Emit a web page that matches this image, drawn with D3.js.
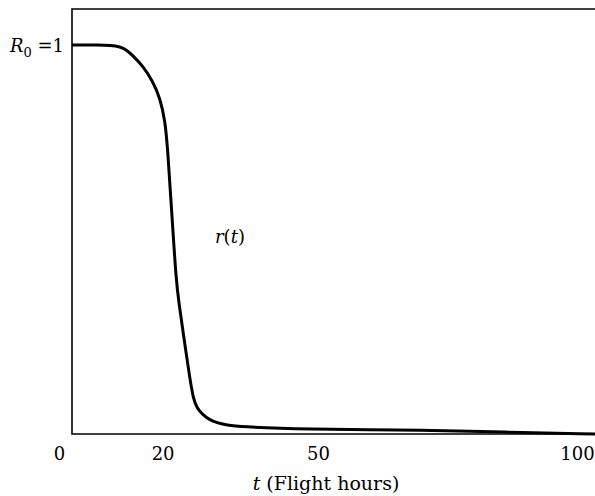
<!DOCTYPE html>
<html>
<head>
<meta charset="utf-8">
<script src="https://cdn.jsdelivr.net/npm/d3@7/dist/d3.min.js"></script>
<style>
  body { margin: 0; background: #fff; }
  svg { display: block; }
  text { font-family: "DejaVu Serif", serif; fill: #000; }
</style>
</head>
<body>
<script>
// reliability r(t) against flight hours
var tHours  = [2.5, 7.9, 9.85, 11.8, 13.1, 14.3, 16.2, 18.1, 19.5, 20.5, 21.0, 21.8, 22.6, 23.2, 23.9, 25.3, 25.9, 26.6, 27.8, 29.1, 30.7, 32.4, 34.9, 46.6, 71.7, 85.2, 103.5];
var rValues = [1.0, 1.0, 0.999, 0.996, 0.987, 0.972, 0.946, 0.907, 0.864, 0.805, 0.728, 0.563, 0.396, 0.332, 0.267, 0.139, 0.093, 0.067, 0.049, 0.036, 0.028, 0.023, 0.019, 0.012, 0.010, 0.005, 0.0];
var tickVals = [0, 20, 50, 100];

var data = tHours.map((t, i) => { return {t: t, r: rValues[i]}; });

var W = 595, H = 496;
var frame = {left: 72, top: 9, right: 595, bottom: 434};

var x = d3.scaleLinear()
	.domain([0, 100])
	.range([59, 577]);

var y = d3.scaleLinear()
	.domain([0, 1])
	.range([frame.bottom, 45]);

var svg = d3.select("body")
	.append("svg")
		.attr("width", W)
		.attr("height", H);

// open frame: top, left and bottom edges
svg.append("path")
	.attr("d", "M" + frame.right + "," + frame.top + "H" + frame.left + "V" + frame.bottom + "H" + frame.right)
	.attr("fill", "none")
	.attr("stroke", "#000")
	.attr("stroke-width", 1.6);

// tick labels only, no tick marks
var bottomAxis = d3.axisBottom(x)
	.tickValues(tickVals)
	.tickSize(0)
	.tickPadding(0)
	.tickFormat(d3.format("d"));

var ax = svg.append("g")
	.attr("class", "bottom axis")
	.attr("transform", "translate(0," + frame.bottom + ")")
	.call(bottomAxis);
ax.select(".domain").remove();
ax.selectAll("text")
	.attr("y", 26)
	.attr("dy", null)
	.attr("font-size", "18px")
	.attr("font-family", null);

// r(t) curve, smoothed through the sampled points
var line = d3.line()
	.x((d) => { return x(d.t); })
	.y((d) => { return y(d.r); })
	.curve(d3.curveBasis);

svg.append("path")
	.datum(data)
	.attr("d", line)
	.attr("fill", "none")
	.attr("stroke", "#000")
	.attr("stroke-width", 3)
	.attr("stroke-linejoin", "round");

// R0 = 1 label on the left
var r0 = svg.append("text")
	.attr("x", 64)
	.attr("y", y(1) + 7)
	.attr("text-anchor", "end")
	.attr("font-size", "18px");
r0.append("tspan").attr("font-style", "italic").text("R");
r0.append("tspan").attr("font-size", "13px").attr("dy", 5).text("0");
r0.append("tspan").attr("dy", -5).text(" =1");

// curve label
var rl = svg.append("text")
	.attr("x", 215)
	.attr("y", 243)
	.attr("font-size", "18px");
rl.append("tspan").attr("font-style", "italic").text("r");
rl.append("tspan").text("(");
rl.append("tspan").attr("font-style", "italic").text("t");
rl.append("tspan").text(")");

// x axis title
var xt = svg.append("text")
	.attr("x", 326)
	.attr("y", 490)
	.attr("text-anchor", "middle")
	.attr("font-size", "19px");
xt.append("tspan").attr("font-style", "italic").text("t");
xt.append("tspan").text(" (Flight hours)");
</script>
</body>
</html>
